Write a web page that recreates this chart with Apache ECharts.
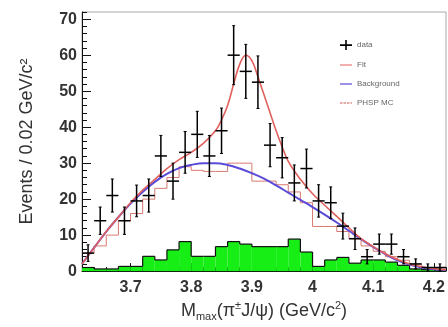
<!DOCTYPE html>
<html>
<head>
<meta charset="utf-8">
<script src="https://cdn.jsdelivr.net/npm/echarts@6/dist/echarts.min.js"></script>
<style>
  html, body { margin: 0; padding: 0; background: #fff; }
  #chart { width: 448px; height: 327px; }
</style>
</head>
<body>
<div id="chart"></div>
<script>
// bin centres, 0.02 GeV/c^2 wide
const binCenters = [3.63, 3.65, 3.67, 3.69, 3.71, 3.73, 3.75, 3.77, 3.79, 3.81,
  3.83, 3.85, 3.87, 3.89, 3.91, 3.93, 3.95, 3.97, 3.99, 4.01,
  4.03, 4.05, 4.07, 4.09, 4.11, 4.13, 4.15, 4.17, 4.19, 4.21];
const dataCounts = [5, 14, 21, 14, 19.5, 21, 32, 25, 33, 38,
  32, 39, 60, 55.5, 52.5, 35, 31.5, 24.5, 28.5, 19.5,
  19, 12.5, 9, 4, 7.5, 7.5, 4, 2, 1, 1];
const dataErrors = [2.3, 3.8, 4.6, 3.8, 4.4, 4.6, 5.7, 5, 5.8, 6.4,
  5.7, 6.3, 8.2, 7.5, 7.3, 6, 5.6, 5, 5.4, 4.5,
  4.4, 3.6, 3, 2, 2.8, 2.8, 2, 1.4, 1, 1];
// green filled histogram
const sidebandCounts = [1, 0.6, 0.6, 1.3, 1.3, 4.1, 3.1, 5.9, 8.2, 4.1,
  4.1, 6.8, 8.2, 7.5, 6.8, 6.8, 6.8, 8.9, 5.3, 1.3,
  3.1, 3.8, 2.2, 3.1, 3.1, 2.5, 1.6, 0.6, 0.4, 0.3];
// PHSP MC step histogram
const phspCounts = [5, 7, 10, 14, 16, 20, 23, 26, 29, 28,
  27.7, 27.7, 30, 30, 25, 25, 24, 22, 19, 12.4,
  12.4, 11, 9, 7, 5.5, 4, 3, 1.8, 1, 0.5];
// curves
const fitX = [3.62, 3.64, 3.66, 3.68, 3.70, 3.72, 3.74, 3.76, 3.78, 3.80, 3.82, 3.84,
  3.85, 3.86, 3.87, 3.88, 3.89, 3.90, 3.91, 3.92, 3.93, 3.94, 3.95, 3.96, 3.98,
  4.00, 4.02, 4.04, 4.06, 4.08, 4.10, 4.12, 4.14, 4.16, 4.18, 4.20, 4.22];
const fitY = [2, 6.5, 11, 15, 19, 22.5, 25.5, 28.5, 31, 33, 35.5, 39,
  42, 46, 52, 57.5, 60, 58.5, 54, 49, 44, 39, 34.5, 30.5, 25.5,
  21.5, 18.3, 15.2, 12, 9, 6.8, 4.8, 3.2, 2, 1.2, 0.7, 0.4];
const bkgX = [3.62, 3.64, 3.66, 3.68, 3.70, 3.72, 3.74, 3.76, 3.78, 3.80, 3.82, 3.84,
  3.86, 3.88, 3.90, 3.92, 3.94, 3.96, 3.98, 4.00, 4.02, 4.04, 4.06, 4.08,
  4.10, 4.12, 4.14, 4.16, 4.18, 4.20, 4.22];
const bkgY = [2, 6.5, 11, 15, 18.8, 22, 24.8, 27, 28.6, 29.5, 30, 30,
  29.5, 28.5, 27.2, 25.7, 23.8, 21.8, 19.8, 17.8, 15.7, 13.5, 11.2, 8.9,
  6.7, 4.7, 3, 1.8, 1, 0.5, 0.3];
const xLabels = [3.7, 3.8, 3.9, 4.0, 4.1, 4.2];

const HALF = 0.01;
const FONT = 'Liberation Sans';
const chart = echarts.init(document.getElementById('chart'));

// step histogram: top edge of each bin + riser to the previous bin
function stepRender(values, fill, stroke, width) {
  return function (params, api) {
    const c = api.value(0), v = api.value(1);
    const p0 = api.coord([c - HALF, v]);
    const p1 = api.coord([c + HALF, 0]);
    const kids = [];
    if (fill) {
      kids.push({ type: 'rect', shape: { x: p0[0], y: p0[1], width: p1[0] - p0[0], height: p1[1] - p0[1] }, style: { fill: fill } });
    }
    kids.push({ type: 'line', shape: { x1: p0[0], y1: p0[1], x2: p1[0], y2: p0[1] }, style: { stroke: stroke, lineWidth: width } });
    if (params.dataIndex > 0) {
      const pp = api.coord([c - HALF, values[params.dataIndex - 1]]);
      kids.push({ type: 'line', shape: { x1: p0[0], y1: pp[1], x2: p0[0], y2: p0[1] }, style: { stroke: stroke, lineWidth: width } });
    }
    return { type: 'group', children: kids };
  };
}

const option = {
  animation: false,
  grid: { left: 82, right: 2, top: 12, bottom: 54, show: true, borderColor: '#aaa', borderWidth: 1 },
  legend: {
    left: 335, top: 35, orient: 'vertical', itemWidth: 12, itemHeight: 10, itemGap: 11,
    textStyle: { fontSize: 8, color: '#666', fontFamily: FONT },
    data: [
      { name: 'data', icon: 'path://M0,4.3h12v1.6h-12z M5.2,0h1.6v10h-1.6z' },
      { name: 'Fit', icon: 'path://M0,4.5h12v1.2h-12z' },
      { name: 'Background', icon: 'path://M0,4.5h12v1.2h-12z' },
      { name: 'PHSP MC', icon: 'path://M0,4.5h2.5v1.2h-2.5z M3.5,4.5h2.5v1.2h-2.5z M7,4.5h2.5v1.2h-2.5z M10.5,4.5h1.5v1.2h-1.5z' }
    ]
  },
  xAxis: [{
    type: 'value', min: 3.62, max: 4.22,
    name: '{m|M}{s|max}{m|(π}{p|±}{m|J/ψ) (GeV/c}{p|2}{m|)}',
    nameLocation: 'middle', nameGap: 26,
    nameTextStyle: {
      rich: {
        m: { fontSize: 18, color: '#333', fontFamily: FONT },
        s: { fontSize: 11, color: '#333', fontFamily: FONT, verticalAlign: 'bottom', padding: [11, 0, 0, 0] },
        p: { fontSize: 11, color: '#333', fontFamily: FONT, verticalAlign: 'top', padding: [0, 0, 9, 0] }
      }
    },
    axisLine: { lineStyle: { color: '#111', width: 1 } },
    axisTick: { inside: true, length: 8, customValues: xLabels, lineStyle: { color: '#111' } },
    axisLabel: {
      customValues: xLabels, margin: 8, fontSize: 16, color: '#333', fontWeight: 'bold',
      fontFamily: FONT, formatter: v => String(Math.round(v * 10) / 10)
    },
    splitLine: { show: false }
  }, {
    // minor ticks every bin
    type: 'value', min: 3.62, max: 4.22, interval: 0.02, position: 'bottom',
    axisLine: { show: false }, axisLabel: { show: false }, splitLine: { show: false },
    axisTick: { inside: true, length: 4, lineStyle: { color: '#111' } }
  }],
  yAxis: [{
    type: 'value', min: 0, max: 72, interval: 10,
    name: 'Events / 0.02 GeV/c²', nameLocation: 'middle', nameGap: 46,
    nameTextStyle: { fontSize: 18, color: '#333', fontFamily: FONT },
    axisLine: { show: true, lineStyle: { color: '#111', width: 1 } },
    axisTick: { inside: true, length: 9, lineStyle: { color: '#111' } },
    axisLabel: { showMaxLabel: false, margin: 5, fontSize: 16, color: '#333', fontWeight: 'bold', fontFamily: FONT },
    splitLine: { show: false }
  }, {
    type: 'value', min: 0, max: 72, interval: 2, position: 'left',
    axisLine: { show: false }, axisLabel: { show: false }, splitLine: { show: false },
    axisTick: { inside: true, length: 5, lineStyle: { color: '#111' } }
  }],
  series: [
    {
      name: 'sideband', type: 'custom',
      data: binCenters.map((c, i) => [c, sidebandCounts[i]]),
      renderItem: stepRender(sidebandCounts, '#16ee16', '#111', 1.2),
      z: 1
    },
    {
      name: 'PHSP MC', type: 'custom',
      itemStyle: { color: '#d05a50' },
      data: binCenters.map((c, i) => [c, phspCounts[i]]),
      renderItem: stepRender(phspCounts, null, '#d87a70', 1),
      z: 2
    },
    {
      name: 'Background', type: 'line', smooth: 0.4, showSymbol: false,
      itemStyle: { color: '#5a4ad8' },
      lineStyle: { color: '#5a4ad8', width: 2 },
      data: bkgX.map((x, i) => [x, bkgY[i]]),
      z: 3
    },
    {
      name: 'Fit', type: 'line', smooth: 0.4, showSymbol: false,
      itemStyle: { color: '#e87a78' },
      lineStyle: { color: '#e0605e', width: 1.6 },
      data: fitX.map((x, i) => [x, fitY[i]]),
      z: 4
    },
    {
      name: 'data', type: 'custom',
      itemStyle: { color: '#000' },
      data: binCenters.map((c, i) => [c, dataCounts[i], dataErrors[i]]),
      renderItem: function (params, api) {
        const c = api.value(0), v = api.value(1), e = api.value(2);
        const l = api.coord([c - HALF, v]);
        const r = api.coord([c + HALF, v]);
        const t = api.coord([c, v + e]);
        const b = api.coord([c, Math.max(v - e, 0)]);
        const st = { stroke: '#000', lineWidth: 1.5 };
        return {
          type: 'group', children: [
            { type: 'line', shape: { x1: l[0], y1: l[1], x2: r[0], y2: r[1] }, style: st },
            { type: 'line', shape: { x1: t[0], y1: t[1], x2: b[0], y2: b[1] }, style: st },
            { type: 'line', shape: { x1: t[0] - 1.5, y1: t[1], x2: t[0] + 1.5, y2: t[1] }, style: { stroke: '#000', lineWidth: 1 } },
            { type: 'line', shape: { x1: b[0] - 1.5, y1: b[1], x2: b[0] + 1.5, y2: b[1] }, style: { stroke: '#000', lineWidth: 1 } }
          ]
        };
      },
      z: 5
    }
  ]
};
chart.setOption(option);
</script>
</body>
</html>
